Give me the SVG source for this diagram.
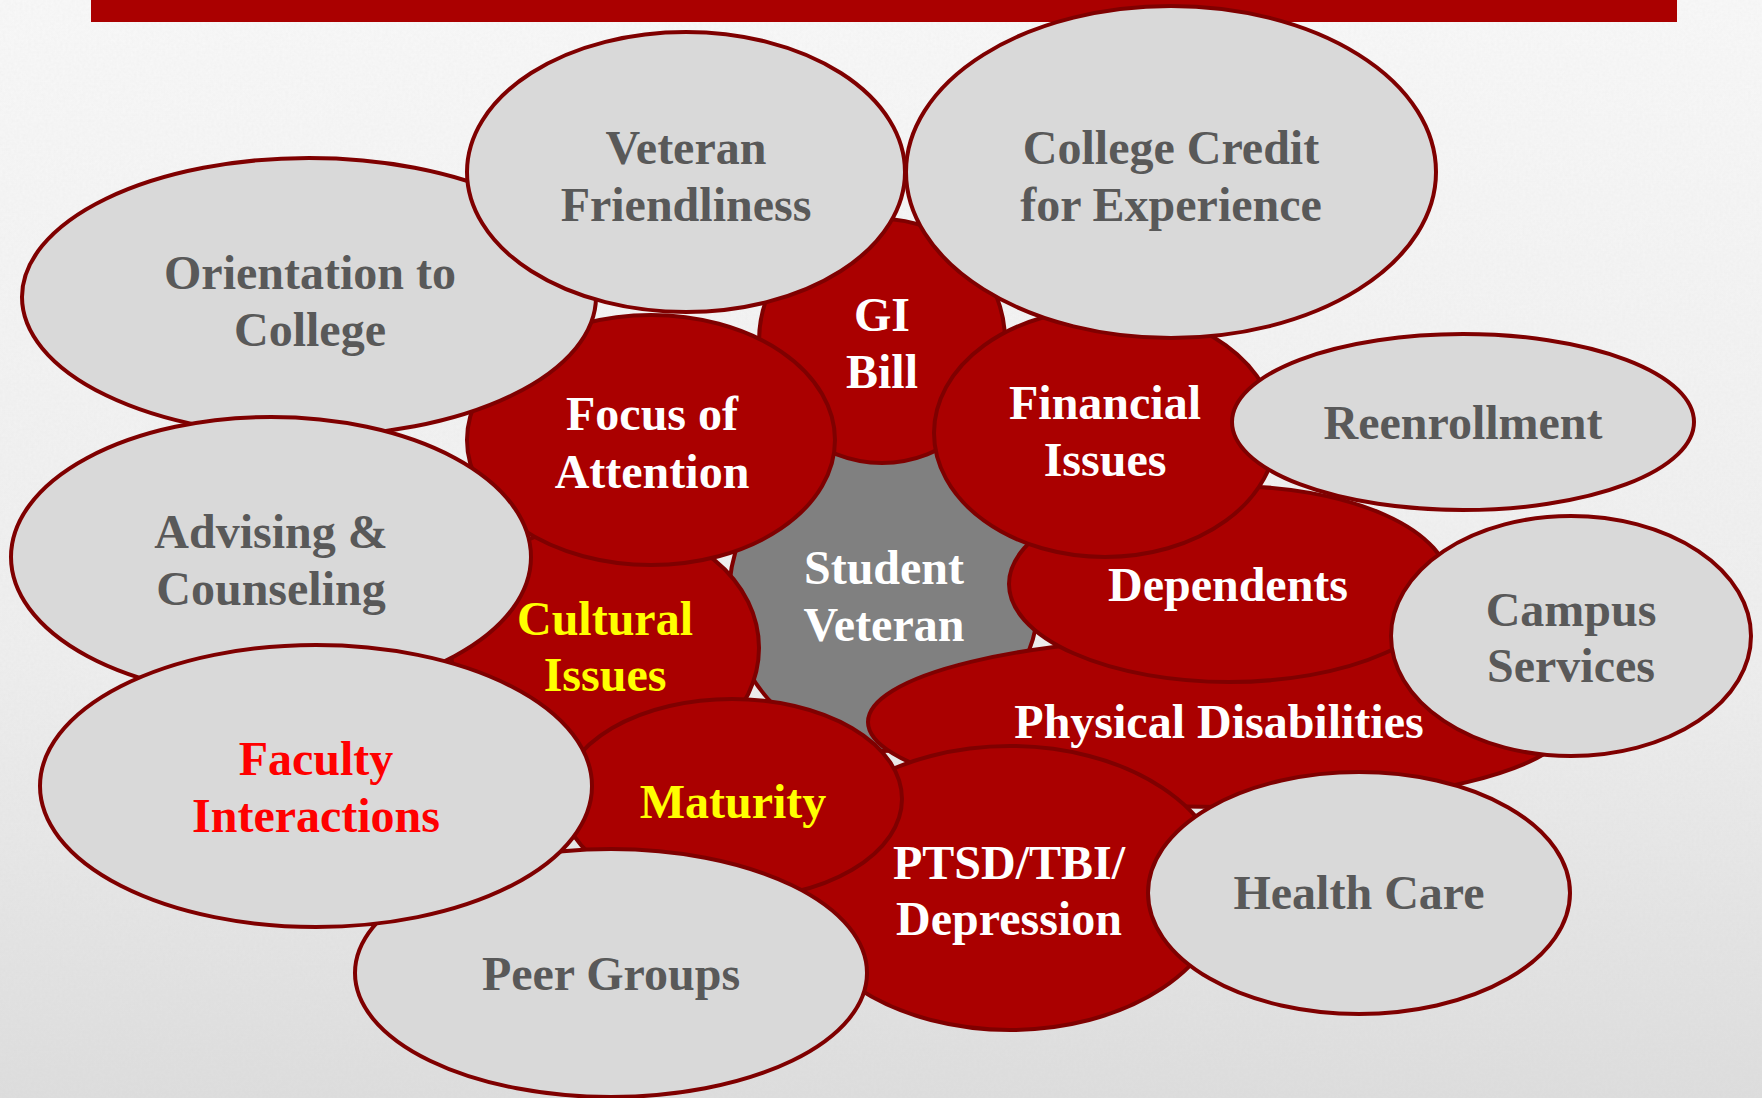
<svg xmlns="http://www.w3.org/2000/svg" width="1762" height="1098" viewBox="0 0 1762 1098">
  <defs>
    <linearGradient id="paper" x1="0" y1="0" x2="0" y2="1">
      <stop offset="0" stop-color="#f9f9f9"/>
      <stop offset="0.6" stop-color="#efefef"/>
      <stop offset="1" stop-color="#dedede"/>
    </linearGradient>
    <filter id="grain" x="0" y="0" width="100%" height="100%">
      <feTurbulence type="fractalNoise" baseFrequency="0.35" numOctaves="2" seed="4" result="n"/>
      <feColorMatrix in="n" type="matrix" values="0 0 0 0 0.55  0 0 0 0 0.55  0 0 0 0 0.55  0 0 0 0.12 0"/>
    </filter>
    <style>
      .light { fill: #d9d9d9; stroke: #7f0000; stroke-width: 4; }
      .red { fill: #aa0000; stroke: #7f0000; stroke-width: 4; }
      .core { fill: #808080; stroke: #7f0000; stroke-width: 4; }
      text { font-family: "Liberation Serif", "Times New Roman", serif; font-weight: bold; font-size: 48px; text-anchor: middle; }
      .t-grey { fill: #595959; }
      .t-white { fill: #ffffff; }
      .t-yellow { fill: #ffff00; }
      .t-red { fill: #ff0000; }
    </style>
  </defs>

  <!-- page background -->
  <rect x="0" y="0" width="1762" height="1098" fill="url(#paper)"/>
  <rect x="0" y="0" width="1762" height="1098" filter="url(#grain)"/>

  <!-- title bar -->
  <rect x="91" y="0" width="1586" height="22" fill="#aa0000"/>

  <!-- bubbles, back to front -->
  <g id="student-veteran">
    <ellipse class="core" cx="884" cy="596" rx="155" ry="155"/>
    <text class="t-white" x="884" y="584">Student</text>
    <text class="t-white" x="884" y="641">Veteran</text>
  </g>
  <g id="gi-bill">
    <ellipse class="red" cx="882" cy="341" rx="123" ry="122"/>
    <text class="t-white" x="882" y="331">GI</text>
    <text class="t-white" x="882" y="388">Bill</text>
  </g>
  <g id="physical-disabilities">
    <ellipse class="red" cx="1219" cy="722" rx="351" ry="85"/>
    <text class="t-white" x="1219" y="738">Physical Disabilities</text>
  </g>
  <g id="dependents">
    <ellipse class="red" cx="1229" cy="584" rx="220" ry="98"/>
    <text class="t-white" x="1228" y="601">Dependents</text>
  </g>
  <g id="financial-issues">
    <ellipse class="red" cx="1105" cy="433" rx="171" ry="124"/>
    <text class="t-white" x="1105" y="419">Financial</text>
    <text class="t-white" x="1105" y="476">Issues</text>
  </g>
  <g id="cultural-issues">
    <ellipse class="red" cx="605" cy="648" rx="154" ry="125"/>
    <text class="t-yellow" x="605" y="635">Cultural</text>
    <text class="t-yellow" x="605" y="691">Issues</text>
  </g>
  <g id="focus-of-attention">
    <ellipse class="red" cx="651" cy="440" rx="184" ry="125"/>
    <text class="t-white" x="652" y="430">Focus of</text>
    <text class="t-white" x="652" y="488">Attention</text>
  </g>
  <g id="ptsd">
    <ellipse class="red" cx="1010" cy="888" rx="215" ry="142"/>
    <text class="t-white" x="1009" y="879">PTSD/TBI/</text>
    <text class="t-white" x="1009" y="935">Depression</text>
  </g>
  <g id="maturity">
    <ellipse class="red" cx="732" cy="799" rx="170" ry="100"/>
    <text class="t-yellow" x="733" y="818">Maturity</text>
  </g>
  <g id="reenrollment">
    <ellipse class="light" cx="1463" cy="422" rx="231" ry="88"/>
    <text class="t-grey" x="1463" y="439">Reenrollment</text>
  </g>
  <g id="campus-services">
    <ellipse class="light" cx="1571" cy="636" rx="180" ry="120"/>
    <text class="t-grey" x="1571" y="626">Campus</text>
    <text class="t-grey" x="1571" y="682">Services</text>
  </g>
  <g id="health-care">
    <ellipse class="light" cx="1359" cy="893" rx="211" ry="121"/>
    <text class="t-grey" x="1359" y="909">Health Care</text>
  </g>
  <g id="college-credit">
    <ellipse class="light" cx="1171" cy="172" rx="265" ry="166"/>
    <text class="t-grey" x="1171" y="164">College Credit</text>
    <text class="t-grey" x="1171" y="221">for Experience</text>
  </g>
  <g id="orientation">
    <ellipse class="light" cx="309" cy="297" rx="287" ry="139"/>
    <text class="t-grey" x="310" y="289">Orientation to</text>
    <text class="t-grey" x="310" y="346">College</text>
  </g>
  <g id="veteran-friendliness">
    <ellipse class="light" cx="686" cy="172" rx="219" ry="140"/>
    <text class="t-grey" x="686" y="164">Veteran</text>
    <text class="t-grey" x="686" y="221">Friendliness</text>
  </g>
  <g id="advising">
    <ellipse class="light" cx="271" cy="557" rx="260" ry="140"/>
    <text class="t-grey" x="271" y="548">Advising &amp;</text>
    <text class="t-grey" x="271" y="605">Counseling</text>
  </g>
  <g id="peer-groups">
    <ellipse class="light" cx="611" cy="973" rx="256" ry="124"/>
    <text class="t-grey" x="611" y="990">Peer Groups</text>
  </g>
  <g id="faculty-interactions">
    <ellipse class="light" cx="316" cy="786" rx="276" ry="141"/>
    <text class="t-red" x="316" y="775">Faculty</text>
    <text class="t-red" x="316" y="832">Interactions</text>
  </g>
</svg>
